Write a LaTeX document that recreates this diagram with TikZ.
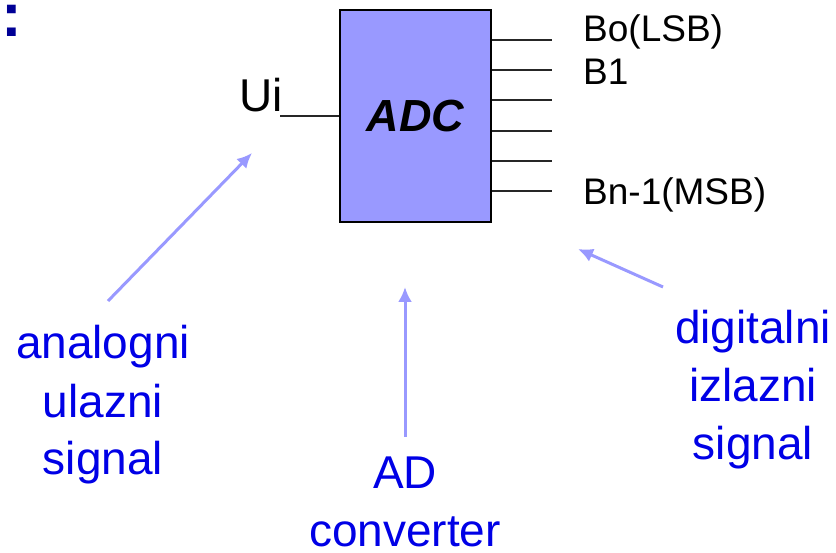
\documentclass[tikz,border=0pt]{standalone}
\usepackage{fontspec}
\setmainfont{Liberation Sans}
\definecolor{adcfill}{RGB}{153,153,255}
\definecolor{adcarrow}{RGB}{153,153,255}
\definecolor{adcblue}{RGB}{0,0,230}
\definecolor{adcnavy}{RGB}{0,0,150}
\usetikzlibrary{arrows.meta,positioning}
\tikzset{
    block/.style={
        draw=black, line width=2pt, fill=adcfill,
        minimum width=151pt, minimum height=212pt, inner sep=0pt,
        font=\fontsize{45}{45}\selectfont\bfseries\itshape
    },
    pinline/.style={line width=2pt, draw=black!85},
    pinlabel/.style={
        anchor=base west, inner sep=0pt,
        font=\fontsize{37}{37}\selectfont
    },
    note/.style={
        align=center, anchor=base, inner sep=0pt, text=adcblue,
        font=\fontsize{46}{58}\selectfont
    },
    hint/.style={
        -{Latex[length=15pt,width=14pt]}, line width=3pt, draw=adcarrow
    }
}
\begin{document}
\begin{tikzpicture}[x=1pt,y=-1pt]
\useasboundingbox (0,0) rectangle (836,553);
\node[anchor=base west, inner sep=0pt, text=adcnavy,
      font=\fontsize{62}{62}\selectfont\bfseries] (colon) at (1,37) {:};
% converter block
\node[block] (adc) at (415.5,116) {ADC};
\coordinate (uiend) at (280,116);
\node[anchor=base east, inner sep=0pt, font=\fontsize{46}{46}\selectfont]
  (ui) at (283,112) {Ui};
\draw[pinline] (uiend) -- (adc.west |- uiend);
% output bits
\foreach \i/\y in {1/40,2/70,3/100,4/131,5/161,6/191}{
  \coordinate (o\i) at (552,\y);
  \draw[pinline] (adc.east |- o\i) -- (o\i);
}
\node[pinlabel] (b0) at (583,42) {Bo(LSB)};
\node[pinlabel] (b1) at (583,85) {B1};
\node[pinlabel] (bn) at (583,205) {Bn-1(MSB)};
% notes (base = last line)
\node[note] (analog) at (103,475) {analogni\\ulazni\\signal};
\node[note] (conv) at (405,546) {AD\\converter};
\node[note] (digital) at (753,459) {digitalni\\izlazni\\signal};
\coordinate (a1t) at (108,301);
\coordinate (a1h) at (252,153);
\coordinate (a2t) at (405,437);
\coordinate (a2h) at (405,287);
\coordinate (a3t) at (663,287);
\coordinate (a3h) at (578,249);
\draw[hint] (a1t) -- (a1h);
\draw[hint] (a2t) -- (a2h);
\draw[hint] (a3t) -- (a3h);
\end{tikzpicture}
\end{document}
